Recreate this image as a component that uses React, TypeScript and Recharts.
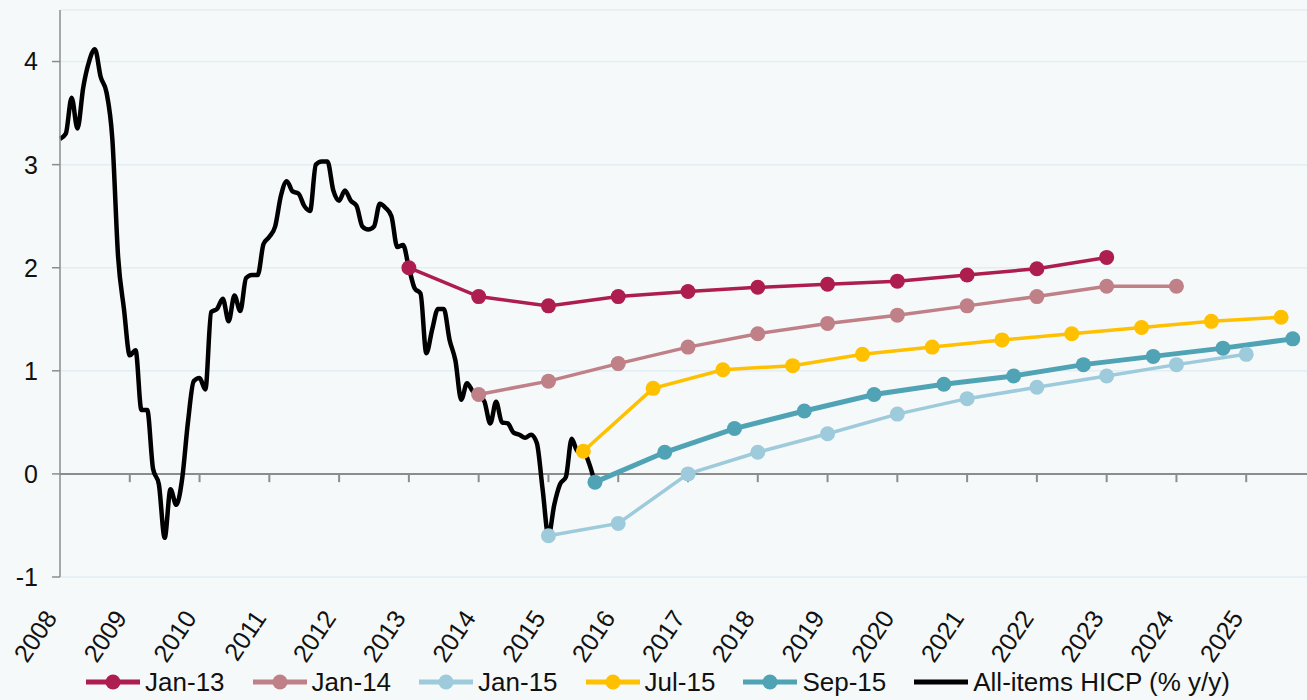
import React from 'react'
import { LineChart, Line, XAxis, YAxis, CartesianGrid, ReferenceLine, Legend } from 'recharts'

// monthly all-items HICP, % y/y, Jan 2008 – Sep 2015
const hicp2008 = [3.25, 3.3, 3.65, 3.35, 3.75, 4.0, 4.12, 3.85, 3.7, 3.25, 2.1, 1.6]
const hicp2009 = [1.15, 1.2, 0.62, 0.62, 0.05, -0.1, -0.62, -0.15, -0.3, -0.05, 0.5, 0.9]
const hicp2010 = [0.93, 0.82, 1.57, 1.6, 1.7, 1.48, 1.73, 1.58, 1.9, 1.93, 1.93, 2.23]
const hicp2011 = [2.3, 2.4, 2.7, 2.84, 2.74, 2.72, 2.6, 2.55, 3.0, 3.03, 3.03, 2.75]
const hicp2012 = [2.65, 2.75, 2.65, 2.6, 2.4, 2.37, 2.4, 2.62, 2.58, 2.5, 2.2, 2.22]
const hicp2013 = [2.0, 1.8, 1.75, 1.17, 1.4, 1.6, 1.6, 1.3, 1.1, 0.72, 0.88, 0.8]
const hicp2014 = [0.77, 0.7, 0.49, 0.7, 0.5, 0.49, 0.4, 0.38, 0.35, 0.38, 0.3, -0.15]
const hicp2015 = [-0.6, -0.3, -0.1, -0.03, 0.34, 0.22, 0.22, 0.1, -0.09]

// projection vintages, one point per year from the start date
const jan13Values = [2.0, 1.72, 1.63, 1.72, 1.77, 1.81, 1.84, 1.87, 1.93, 1.99, 2.1]
const jan14Values = [0.77, 0.9, 1.07, 1.23, 1.36, 1.46, 1.54, 1.63, 1.72, 1.82, 1.82]
const jan15Values = [-0.6, -0.48, 0.0, 0.21, 0.39, 0.58, 0.73, 0.84, 0.95, 1.06, 1.16]
const jul15Values = [0.22, 0.83, 1.01, 1.05, 1.16, 1.23, 1.3, 1.36, 1.42, 1.48, 1.52]
const sep15Values = [-0.08, 0.21, 0.44, 0.61, 0.77, 0.87, 0.95, 1.06, 1.14, 1.22, 1.31]

const yearTicks = [2008, 2009, 2010, 2011, 2012, 2013, 2014, 2015, 2016, 2017, 2018, 2019, 2020, 2021, 2022, 2023, 2024, 2025]
const valueTicks = [-1, 0, 1, 2, 3, 4]

const GREY = '#8c8c8c'
const FONT = "'Liberation Sans', Arial, sans-serif"

const vintages = [
  { name: 'Jan-13', start: 2013, values: jan13Values, color: '#ad1d4e', width: 3.5 },
  { name: 'Jan-14', start: 2014, values: jan14Values, color: '#bf8088', width: 3.5 },
  { name: 'Jan-15', start: 2015, values: jan15Values, color: '#9dcbdb', width: 3.5 },
  { name: 'Jul-15', start: 2015 + 6 / 12, values: jul15Values, color: '#ffc000', width: 3.5 },
  { name: 'Sep-15', start: 2015 + 8 / 12, values: sep15Values, color: '#4fa3b5', width: 5 },
]

const hicpData = [...hicp2008, ...hicp2009, ...hicp2010, ...hicp2011, ...hicp2012, ...hicp2013, ...hicp2014, ...hicp2015]
   .map((v, i) => ({ x: 2008 + i / 12, y: v }))

const YearTick = (props: any) => {
   const { x, y, payload } = props
   return (
      <g transform={`translate(${x},${y})`}>
         <text transform='translate(-2,41) rotate(-56)' textAnchor='end' fontSize={25} fill='#111'>
            {payload.value}
         </text>
      </g>
   )
}

const LegendRow = () => (
   <div style={{ display: 'flex', justifyContent: 'center', alignItems: 'center', height: 36, gap: 28, fontSize: 26, color: '#111' }}>
      {vintages.map(s => (
         <div key={s.name} style={{ display: 'flex', alignItems: 'center', gap: 5 }}>
            <svg width={54} height={20}>
               <line x1={0} y1={10} x2={54} y2={10} stroke={s.color} strokeWidth={5} />
               <circle cx={27} cy={10} r={7.5} fill={s.color} />
            </svg>
            <span>{s.name}</span>
         </div>
      ))}
      <div style={{ display: 'flex', alignItems: 'center', gap: 5 }}>
         <svg width={54} height={20}>
            <line x1={0} y1={10} x2={54} y2={10} stroke='#000' strokeWidth={5} />
         </svg>
         <span>All-items HICP (% y/y)</span>
      </div>
   </div>
)

export default function App() {
   return (
      <div style={{ position: 'absolute', left: 0, top: 0, width: 1307, height: 700, overflow: 'hidden', background: '#f6f9f9', fontFamily: FONT }}>
         <LineChart width={1316} height={700} margin={{ top: 10, right: 0, left: 0, bottom: 0 }}>
            <CartesianGrid vertical={false} stroke='#e2eef3' strokeWidth={1.5} />
            <XAxis
               type='number'
               dataKey='x'
               domain={[2008, 2026]}
               ticks={yearTicks}
               interval={0}
               axisLine={false}
               tickLine={false}
               tickSize={0}
               tickMargin={0}
               height={87}
               tick={<YearTick />}
            />
            <YAxis
               type='number'
               domain={[-1, 4.5]}
               ticks={valueTicks}
               allowDataOverflow
               width={60}
               tickSize={8}
               tickMargin={14}
               axisLine={{ stroke: GREY, strokeWidth: 1.5 }}
               tickLine={{ stroke: GREY, strokeWidth: 1.5 }}
               tick={{ fontSize: 25, fill: '#111' }}
            />
            <ReferenceLine y={0} stroke={GREY} strokeWidth={2} />
            {yearTicks.filter(t => t > 2008).map(t => (
               <ReferenceLine key={t} segment={[{ x: t, y: 0 }, { x: t, y: -0.08 }]} stroke={GREY} strokeWidth={2} />
            ))}
            {vintages.map(s => (
               <Line
                  key={s.name}
                  name={s.name}
                  data={s.values.map((v, i) => ({ x: s.start + i, y: v }))}
                  dataKey='y'
                  type='linear'
                  stroke={s.color}
                  strokeWidth={s.width}
                  dot={{ r: 7.5, fill: s.color, stroke: 'none' }}
                  activeDot={false}
                  isAnimationActive={false}
               />
            ))}
            <Line
               name='All-items HICP (% y/y)'
               data={hicpData}
               dataKey='y'
               type='monotone'
               stroke='#000'
               strokeWidth={4.5}
               dot={false}
               activeDot={false}
               isAnimationActive={false}
            />
            <Legend verticalAlign='bottom' height={36} content={() => <LegendRow />} />
         </LineChart>
      </div>
   )
}
